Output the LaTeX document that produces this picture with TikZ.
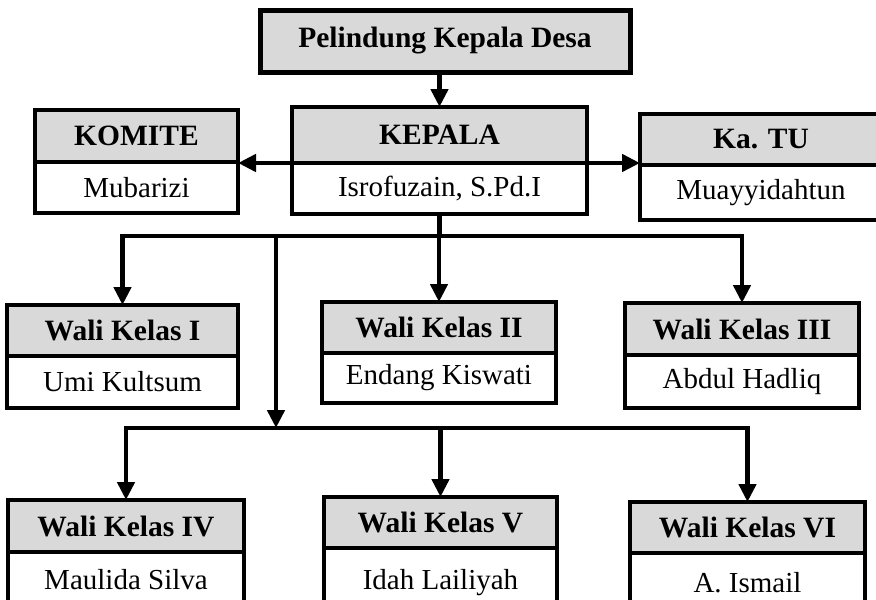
\documentclass[tikz,border=0pt]{standalone}
\usepackage{fontspec}
\setmainfont{Liberation Serif}
\usetikzlibrary{arrows.meta}
\definecolor{hdrgray}{HTML}{D9D9D9}
\tikzset{
  hdr/.style={draw=black, fill=hdrgray, line width=3.5pt, inner sep=0pt, outer sep=0pt,
    font=\fontsize{29.5}{31}\selectfont\bfseries},
  bodybox/.style={draw=black, fill=white, line width=3.5pt, inner sep=0pt, outer sep=0pt,
    font=\fontsize{29}{31}\selectfont},
  ln/.style={draw=black, line width=4.5pt, line cap=rect},
  arr/.style={draw=black, line width=4.5pt, -{Triangle[width=17pt,length=18pt]}},
}
% #1 name, #2 x1, #3 y1, #4 ydiv, #5 x2, #6 y2, #7 header, #8 body
\newcommand\orgbox[8]{%
  \node[hdr, minimum width={(#5-#2)*1pt}, minimum height={(#4-#3)*1pt}]
    (#1) at ({(#2+#5)/2},{(#3+#4)/2}) {#7};
  \node[bodybox, minimum width={(#5-#2)*1pt}, minimum height={(#6-#4)*1pt}]
    (#1b) at ({(#2+#5)/2},{(#4+#6)/2}) {#8};
  \draw[line width=3.5pt] (#1.south west) -- (#1.south east);
}
\begin{document}
\begin{tikzpicture}[x=1pt,y=-1pt]
\useasboundingbox (0,0) rectangle (876,600);
\clip (0,0) rectangle (876,600);
\fill[white] (0,0) rectangle (876,600);

% top box
\node[hdr, line width=5pt, minimum width=370pt, minimum height=62pt] (top) at (445,41) {Pelindung Kepala Desa};

\orgbox{kep}{292}{107}{163}{587}{214}{KEPALA}{Isrofuzain, S.Pd.I}
\orgbox{kom}{35}{110}{162}{238}{213}{KOMITE}{Mubarizi}
\orgbox{tu}{640}{114}{165}{882}{220}{Ka. TU}{Muayyidahtun}

\orgbox{wa}{7}{305}{356}{238}{408}{Wali Kelas I}{Umi Kultsum}
\orgbox{wb}{322}{302}{353}{556}{403}{Wali Kelas II}{Endang Kiswati}
\orgbox{wc}{625}{303}{355}{859}{408}{Wali Kelas III}{Abdul Hadliq}

\orgbox{wd}{8}{500}{552}{244}{608}{Wali Kelas IV}{Maulida Silva}
\orgbox{we}{324}{497}{548}{557}{618}{Wali Kelas V}{Idah Lailiyah}
\orgbox{wf}{630}{502}{553}{865}{613}{Wali Kelas VI}{A. Ismail}

% connectors
\draw[arr] (top.south -| kep.north) -- (kep.north);
\draw[arr] (kep.south west) -- (kep.south west -| kom.east);
\draw[arr] (kep.south east) -- (kep.south east -| tu.west);

\coordinate (bus1) at (440,236);
\coordinate (bus2) at (440,428);
\coordinate (v2) at (276,236);

\draw[ln] (kepb.south) -- (kepb.south |- bus1);
\draw[ln] (bus1 -| wa.north) -- (bus1 -| wc.north);
\draw[arr] (bus1 -| wa.north) -- (wa.north);
\draw[arr] (bus1 -| wb.north) -- (wb.north);
\draw[arr] (bus1 -| wc.north) -- (wc.north);

\draw[arr] (v2) -- (v2 |- bus2);

\draw[ln] (bus2 -| wd.north) -- (bus2 -| wf.north);
\draw[arr] (bus2 -| wd.north) -- (wd.north);
\draw[arr] (bus2 -| we.north) -- (we.north);
\draw[arr] (bus2 -| wf.north) -- (wf.north);
\end{tikzpicture}
\end{document}
